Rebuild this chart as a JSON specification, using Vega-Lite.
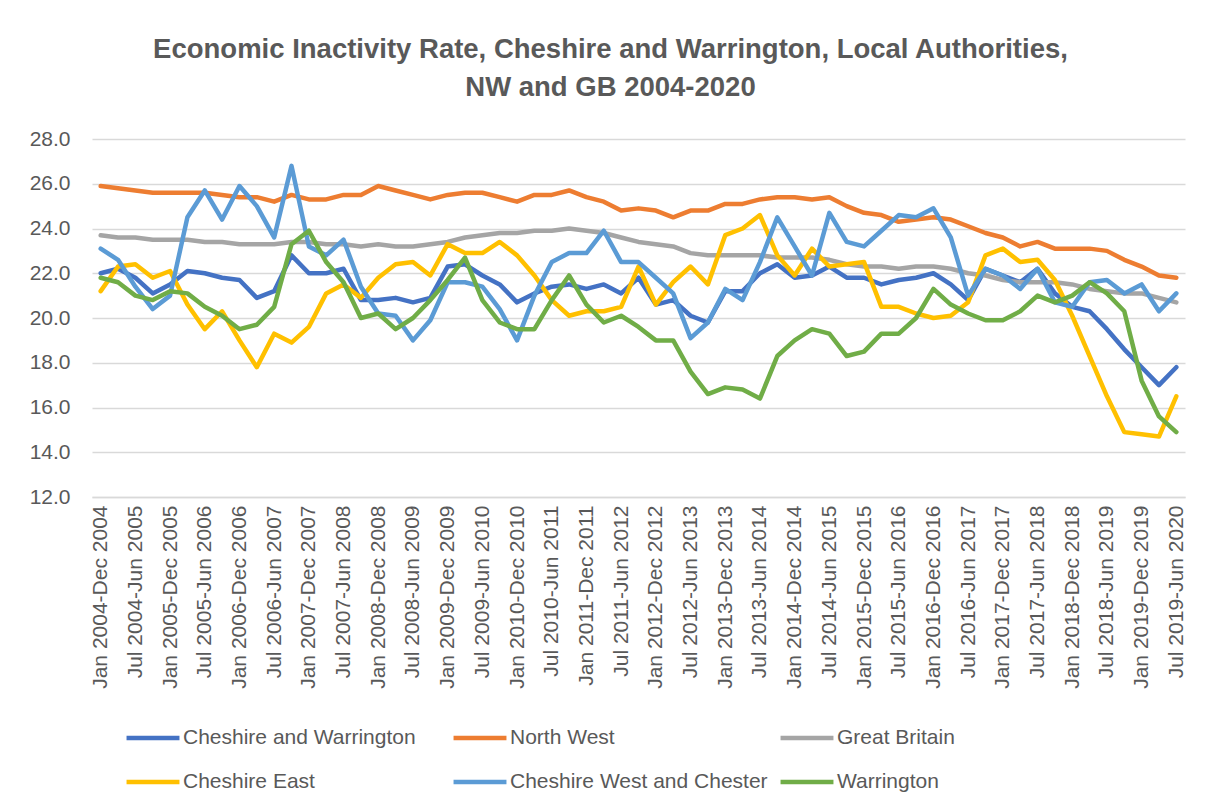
{
"$schema": "https://vega.github.io/schema/vega-lite/v6.json",
"autosize": {"type": "none"},
"width": 1093,
"height": 358,
"padding": {"left": 92, "top": 139, "right": 23, "bottom": 311},
"background": "#FFFFFF",
"config": {"font": "Liberation Sans", "view": {"stroke": null}},
"title": {"text": ["Economic Inactivity Rate, Cheshire and Warrington, Local Authorities,", "NW and GB 2004-2020"], "fontSize": 27.5, "fontWeight": "bold", "color": "#595959", "anchor": "middle", "frame": "group", "dx": -28, "offset": 27, "lineHeight": 38},
"data": {"values": [
{"period":"Jan 2004-Dec 2004","series":"Cheshire and Warrington","value":22.0},{"period":"Jan 2004-Dec 2004","series":"North West","value":25.9},{"period":"Jan 2004-Dec 2004","series":"Great Britain","value":23.7},{"period":"Jan 2004-Dec 2004","series":"Cheshire East","value":21.2},{"period":"Jan 2004-Dec 2004","series":"Cheshire West and Chester","value":23.1},{"period":"Jan 2004-Dec 2004","series":"Warrington","value":21.8},
{"period":"Apr 2004-Mar 2005","series":"Cheshire and Warrington","value":22.2},{"period":"Apr 2004-Mar 2005","series":"North West","value":25.8},{"period":"Apr 2004-Mar 2005","series":"Great Britain","value":23.6},{"period":"Apr 2004-Mar 2005","series":"Cheshire East","value":22.3},{"period":"Apr 2004-Mar 2005","series":"Cheshire West and Chester","value":22.6},{"period":"Apr 2004-Mar 2005","series":"Warrington","value":21.6},
{"period":"Jul 2004-Jun 2005","series":"Cheshire and Warrington","value":21.8},{"period":"Jul 2004-Jun 2005","series":"North West","value":25.7},{"period":"Jul 2004-Jun 2005","series":"Great Britain","value":23.6},{"period":"Jul 2004-Jun 2005","series":"Cheshire East","value":22.4},{"period":"Jul 2004-Jun 2005","series":"Cheshire West and Chester","value":21.4},{"period":"Jul 2004-Jun 2005","series":"Warrington","value":21.0},
{"period":"Oct 2004-Sep 2005","series":"Cheshire and Warrington","value":21.1},{"period":"Oct 2004-Sep 2005","series":"North West","value":25.6},{"period":"Oct 2004-Sep 2005","series":"Great Britain","value":23.5},{"period":"Oct 2004-Sep 2005","series":"Cheshire East","value":21.8},{"period":"Oct 2004-Sep 2005","series":"Cheshire West and Chester","value":20.4},{"period":"Oct 2004-Sep 2005","series":"Warrington","value":20.8},
{"period":"Jan 2005-Dec 2005","series":"Cheshire and Warrington","value":21.5},{"period":"Jan 2005-Dec 2005","series":"North West","value":25.6},{"period":"Jan 2005-Dec 2005","series":"Great Britain","value":23.5},{"period":"Jan 2005-Dec 2005","series":"Cheshire East","value":22.1},{"period":"Jan 2005-Dec 2005","series":"Cheshire West and Chester","value":21.0},{"period":"Jan 2005-Dec 2005","series":"Warrington","value":21.2},
{"period":"Apr 2005-Mar 2006","series":"Cheshire and Warrington","value":22.1},{"period":"Apr 2005-Mar 2006","series":"North West","value":25.6},{"period":"Apr 2005-Mar 2006","series":"Great Britain","value":23.5},{"period":"Apr 2005-Mar 2006","series":"Cheshire East","value":20.6},{"period":"Apr 2005-Mar 2006","series":"Cheshire West and Chester","value":24.5},{"period":"Apr 2005-Mar 2006","series":"Warrington","value":21.1},
{"period":"Jul 2005-Jun 2006","series":"Cheshire and Warrington","value":22.0},{"period":"Jul 2005-Jun 2006","series":"North West","value":25.6},{"period":"Jul 2005-Jun 2006","series":"Great Britain","value":23.4},{"period":"Jul 2005-Jun 2006","series":"Cheshire East","value":19.5},{"period":"Jul 2005-Jun 2006","series":"Cheshire West and Chester","value":25.7},{"period":"Jul 2005-Jun 2006","series":"Warrington","value":20.5},
{"period":"Oct 2005-Sep 2006","series":"Cheshire and Warrington","value":21.8},{"period":"Oct 2005-Sep 2006","series":"North West","value":25.5},{"period":"Oct 2005-Sep 2006","series":"Great Britain","value":23.4},{"period":"Oct 2005-Sep 2006","series":"Cheshire East","value":20.3},{"period":"Oct 2005-Sep 2006","series":"Cheshire West and Chester","value":24.4},{"period":"Oct 2005-Sep 2006","series":"Warrington","value":20.1},
{"period":"Jan 2006-Dec 2006","series":"Cheshire and Warrington","value":21.7},{"period":"Jan 2006-Dec 2006","series":"North West","value":25.4},{"period":"Jan 2006-Dec 2006","series":"Great Britain","value":23.3},{"period":"Jan 2006-Dec 2006","series":"Cheshire East","value":19.0},{"period":"Jan 2006-Dec 2006","series":"Cheshire West and Chester","value":25.9},{"period":"Jan 2006-Dec 2006","series":"Warrington","value":19.5},
{"period":"Apr 2006-Mar 2007","series":"Cheshire and Warrington","value":20.9},{"period":"Apr 2006-Mar 2007","series":"North West","value":25.4},{"period":"Apr 2006-Mar 2007","series":"Great Britain","value":23.3},{"period":"Apr 2006-Mar 2007","series":"Cheshire East","value":17.8},{"period":"Apr 2006-Mar 2007","series":"Cheshire West and Chester","value":25.0},{"period":"Apr 2006-Mar 2007","series":"Warrington","value":19.7},
{"period":"Jul 2006-Jun 2007","series":"Cheshire and Warrington","value":21.2},{"period":"Jul 2006-Jun 2007","series":"North West","value":25.2},{"period":"Jul 2006-Jun 2007","series":"Great Britain","value":23.3},{"period":"Jul 2006-Jun 2007","series":"Cheshire East","value":19.3},{"period":"Jul 2006-Jun 2007","series":"Cheshire West and Chester","value":23.6},{"period":"Jul 2006-Jun 2007","series":"Warrington","value":20.5},
{"period":"Oct 2006-Sep 2007","series":"Cheshire and Warrington","value":22.8},{"period":"Oct 2006-Sep 2007","series":"North West","value":25.5},{"period":"Oct 2006-Sep 2007","series":"Great Britain","value":23.4},{"period":"Oct 2006-Sep 2007","series":"Cheshire East","value":18.9},{"period":"Oct 2006-Sep 2007","series":"Cheshire West and Chester","value":26.8},{"period":"Oct 2006-Sep 2007","series":"Warrington","value":23.3},
{"period":"Jan 2007-Dec 2007","series":"Cheshire and Warrington","value":22.0},{"period":"Jan 2007-Dec 2007","series":"North West","value":25.3},{"period":"Jan 2007-Dec 2007","series":"Great Britain","value":23.4},{"period":"Jan 2007-Dec 2007","series":"Cheshire East","value":19.6},{"period":"Jan 2007-Dec 2007","series":"Cheshire West and Chester","value":23.2},{"period":"Jan 2007-Dec 2007","series":"Warrington","value":23.9},
{"period":"Apr 2007-Mar 2008","series":"Cheshire and Warrington","value":22.0},{"period":"Apr 2007-Mar 2008","series":"North West","value":25.3},{"period":"Apr 2007-Mar 2008","series":"Great Britain","value":23.3},{"period":"Apr 2007-Mar 2008","series":"Cheshire East","value":21.1},{"period":"Apr 2007-Mar 2008","series":"Cheshire West and Chester","value":22.8},{"period":"Apr 2007-Mar 2008","series":"Warrington","value":22.5},
{"period":"Jul 2007-Jun 2008","series":"Cheshire and Warrington","value":22.2},{"period":"Jul 2007-Jun 2008","series":"North West","value":25.5},{"period":"Jul 2007-Jun 2008","series":"Great Britain","value":23.3},{"period":"Jul 2007-Jun 2008","series":"Cheshire East","value":21.5},{"period":"Jul 2007-Jun 2008","series":"Cheshire West and Chester","value":23.5},{"period":"Jul 2007-Jun 2008","series":"Warrington","value":21.6},
{"period":"Oct 2007-Sep 2008","series":"Cheshire and Warrington","value":20.8},{"period":"Oct 2007-Sep 2008","series":"North West","value":25.5},{"period":"Oct 2007-Sep 2008","series":"Great Britain","value":23.2},{"period":"Oct 2007-Sep 2008","series":"Cheshire East","value":20.9},{"period":"Oct 2007-Sep 2008","series":"Cheshire West and Chester","value":21.4},{"period":"Oct 2007-Sep 2008","series":"Warrington","value":20.0},
{"period":"Jan 2008-Dec 2008","series":"Cheshire and Warrington","value":20.8},{"period":"Jan 2008-Dec 2008","series":"North West","value":25.9},{"period":"Jan 2008-Dec 2008","series":"Great Britain","value":23.3},{"period":"Jan 2008-Dec 2008","series":"Cheshire East","value":21.8},{"period":"Jan 2008-Dec 2008","series":"Cheshire West and Chester","value":20.2},{"period":"Jan 2008-Dec 2008","series":"Warrington","value":20.2},
{"period":"Apr 2008-Mar 2009","series":"Cheshire and Warrington","value":20.9},{"period":"Apr 2008-Mar 2009","series":"North West","value":25.7},{"period":"Apr 2008-Mar 2009","series":"Great Britain","value":23.2},{"period":"Apr 2008-Mar 2009","series":"Cheshire East","value":22.4},{"period":"Apr 2008-Mar 2009","series":"Cheshire West and Chester","value":20.1},{"period":"Apr 2008-Mar 2009","series":"Warrington","value":19.5},
{"period":"Jul 2008-Jun 2009","series":"Cheshire and Warrington","value":20.7},{"period":"Jul 2008-Jun 2009","series":"North West","value":25.5},{"period":"Jul 2008-Jun 2009","series":"Great Britain","value":23.2},{"period":"Jul 2008-Jun 2009","series":"Cheshire East","value":22.5},{"period":"Jul 2008-Jun 2009","series":"Cheshire West and Chester","value":19.0},{"period":"Jul 2008-Jun 2009","series":"Warrington","value":20.0},
{"period":"Oct 2008-Sep 2009","series":"Cheshire and Warrington","value":20.9},{"period":"Oct 2008-Sep 2009","series":"North West","value":25.3},{"period":"Oct 2008-Sep 2009","series":"Great Britain","value":23.3},{"period":"Oct 2008-Sep 2009","series":"Cheshire East","value":21.9},{"period":"Oct 2008-Sep 2009","series":"Cheshire West and Chester","value":19.9},{"period":"Oct 2008-Sep 2009","series":"Warrington","value":20.8},
{"period":"Jan 2009-Dec 2009","series":"Cheshire and Warrington","value":22.3},{"period":"Jan 2009-Dec 2009","series":"North West","value":25.5},{"period":"Jan 2009-Dec 2009","series":"Great Britain","value":23.4},{"period":"Jan 2009-Dec 2009","series":"Cheshire East","value":23.3},{"period":"Jan 2009-Dec 2009","series":"Cheshire West and Chester","value":21.6},{"period":"Jan 2009-Dec 2009","series":"Warrington","value":21.7},
{"period":"Apr 2009-Mar 2010","series":"Cheshire and Warrington","value":22.4},{"period":"Apr 2009-Mar 2010","series":"North West","value":25.6},{"period":"Apr 2009-Mar 2010","series":"Great Britain","value":23.6},{"period":"Apr 2009-Mar 2010","series":"Cheshire East","value":22.9},{"period":"Apr 2009-Mar 2010","series":"Cheshire West and Chester","value":21.6},{"period":"Apr 2009-Mar 2010","series":"Warrington","value":22.7},
{"period":"Jul 2009-Jun 2010","series":"Cheshire and Warrington","value":21.9},{"period":"Jul 2009-Jun 2010","series":"North West","value":25.6},{"period":"Jul 2009-Jun 2010","series":"Great Britain","value":23.7},{"period":"Jul 2009-Jun 2010","series":"Cheshire East","value":22.9},{"period":"Jul 2009-Jun 2010","series":"Cheshire West and Chester","value":21.4},{"period":"Jul 2009-Jun 2010","series":"Warrington","value":20.8},
{"period":"Oct 2009-Sep 2010","series":"Cheshire and Warrington","value":21.5},{"period":"Oct 2009-Sep 2010","series":"North West","value":25.4},{"period":"Oct 2009-Sep 2010","series":"Great Britain","value":23.8},{"period":"Oct 2009-Sep 2010","series":"Cheshire East","value":23.4},{"period":"Oct 2009-Sep 2010","series":"Cheshire West and Chester","value":20.4},{"period":"Oct 2009-Sep 2010","series":"Warrington","value":19.8},
{"period":"Jan 2010-Dec 2010","series":"Cheshire and Warrington","value":20.7},{"period":"Jan 2010-Dec 2010","series":"North West","value":25.2},{"period":"Jan 2010-Dec 2010","series":"Great Britain","value":23.8},{"period":"Jan 2010-Dec 2010","series":"Cheshire East","value":22.8},{"period":"Jan 2010-Dec 2010","series":"Cheshire West and Chester","value":19.0},{"period":"Jan 2010-Dec 2010","series":"Warrington","value":19.5},
{"period":"Apr 2010-Mar 2011","series":"Cheshire and Warrington","value":21.1},{"period":"Apr 2010-Mar 2011","series":"North West","value":25.5},{"period":"Apr 2010-Mar 2011","series":"Great Britain","value":23.9},{"period":"Apr 2010-Mar 2011","series":"Cheshire East","value":21.9},{"period":"Apr 2010-Mar 2011","series":"Cheshire West and Chester","value":21.0},{"period":"Apr 2010-Mar 2011","series":"Warrington","value":19.5},
{"period":"Jul 2010-Jun 2011","series":"Cheshire and Warrington","value":21.4},{"period":"Jul 2010-Jun 2011","series":"North West","value":25.5},{"period":"Jul 2010-Jun 2011","series":"Great Britain","value":23.9},{"period":"Jul 2010-Jun 2011","series":"Cheshire East","value":20.8},{"period":"Jul 2010-Jun 2011","series":"Cheshire West and Chester","value":22.5},{"period":"Jul 2010-Jun 2011","series":"Warrington","value":20.8},
{"period":"Oct 2010-Sep 2011","series":"Cheshire and Warrington","value":21.5},{"period":"Oct 2010-Sep 2011","series":"North West","value":25.7},{"period":"Oct 2010-Sep 2011","series":"Great Britain","value":24.0},{"period":"Oct 2010-Sep 2011","series":"Cheshire East","value":20.1},{"period":"Oct 2010-Sep 2011","series":"Cheshire West and Chester","value":22.9},{"period":"Oct 2010-Sep 2011","series":"Warrington","value":21.9},
{"period":"Jan 2011-Dec 2011","series":"Cheshire and Warrington","value":21.3},{"period":"Jan 2011-Dec 2011","series":"North West","value":25.4},{"period":"Jan 2011-Dec 2011","series":"Great Britain","value":23.9},{"period":"Jan 2011-Dec 2011","series":"Cheshire East","value":20.3},{"period":"Jan 2011-Dec 2011","series":"Cheshire West and Chester","value":22.9},{"period":"Jan 2011-Dec 2011","series":"Warrington","value":20.6},
{"period":"Apr 2011-Mar 2012","series":"Cheshire and Warrington","value":21.5},{"period":"Apr 2011-Mar 2012","series":"North West","value":25.2},{"period":"Apr 2011-Mar 2012","series":"Great Britain","value":23.8},{"period":"Apr 2011-Mar 2012","series":"Cheshire East","value":20.3},{"period":"Apr 2011-Mar 2012","series":"Cheshire West and Chester","value":23.9},{"period":"Apr 2011-Mar 2012","series":"Warrington","value":19.8},
{"period":"Jul 2011-Jun 2012","series":"Cheshire and Warrington","value":21.1},{"period":"Jul 2011-Jun 2012","series":"North West","value":24.8},{"period":"Jul 2011-Jun 2012","series":"Great Britain","value":23.6},{"period":"Jul 2011-Jun 2012","series":"Cheshire East","value":20.5},{"period":"Jul 2011-Jun 2012","series":"Cheshire West and Chester","value":22.5},{"period":"Jul 2011-Jun 2012","series":"Warrington","value":20.1},
{"period":"Oct 2011-Sep 2012","series":"Cheshire and Warrington","value":21.8},{"period":"Oct 2011-Sep 2012","series":"North West","value":24.9},{"period":"Oct 2011-Sep 2012","series":"Great Britain","value":23.4},{"period":"Oct 2011-Sep 2012","series":"Cheshire East","value":22.3},{"period":"Oct 2011-Sep 2012","series":"Cheshire West and Chester","value":22.5},{"period":"Oct 2011-Sep 2012","series":"Warrington","value":19.6},
{"period":"Jan 2012-Dec 2012","series":"Cheshire and Warrington","value":20.6},{"period":"Jan 2012-Dec 2012","series":"North West","value":24.8},{"period":"Jan 2012-Dec 2012","series":"Great Britain","value":23.3},{"period":"Jan 2012-Dec 2012","series":"Cheshire East","value":20.6},{"period":"Jan 2012-Dec 2012","series":"Cheshire West and Chester","value":21.8},{"period":"Jan 2012-Dec 2012","series":"Warrington","value":19.0},
{"period":"Apr 2012-Mar 2013","series":"Cheshire and Warrington","value":20.8},{"period":"Apr 2012-Mar 2013","series":"North West","value":24.5},{"period":"Apr 2012-Mar 2013","series":"Great Britain","value":23.2},{"period":"Apr 2012-Mar 2013","series":"Cheshire East","value":21.6},{"period":"Apr 2012-Mar 2013","series":"Cheshire West and Chester","value":21.1},{"period":"Apr 2012-Mar 2013","series":"Warrington","value":19.0},
{"period":"Jul 2012-Jun 2013","series":"Cheshire and Warrington","value":20.1},{"period":"Jul 2012-Jun 2013","series":"North West","value":24.8},{"period":"Jul 2012-Jun 2013","series":"Great Britain","value":22.9},{"period":"Jul 2012-Jun 2013","series":"Cheshire East","value":22.3},{"period":"Jul 2012-Jun 2013","series":"Cheshire West and Chester","value":19.1},{"period":"Jul 2012-Jun 2013","series":"Warrington","value":17.6},
{"period":"Oct 2012-Sep 2013","series":"Cheshire and Warrington","value":19.8},{"period":"Oct 2012-Sep 2013","series":"North West","value":24.8},{"period":"Oct 2012-Sep 2013","series":"Great Britain","value":22.8},{"period":"Oct 2012-Sep 2013","series":"Cheshire East","value":21.5},{"period":"Oct 2012-Sep 2013","series":"Cheshire West and Chester","value":19.8},{"period":"Oct 2012-Sep 2013","series":"Warrington","value":16.6},
{"period":"Jan 2013-Dec 2013","series":"Cheshire and Warrington","value":21.2},{"period":"Jan 2013-Dec 2013","series":"North West","value":25.1},{"period":"Jan 2013-Dec 2013","series":"Great Britain","value":22.8},{"period":"Jan 2013-Dec 2013","series":"Cheshire East","value":23.7},{"period":"Jan 2013-Dec 2013","series":"Cheshire West and Chester","value":21.3},{"period":"Jan 2013-Dec 2013","series":"Warrington","value":16.9},
{"period":"Apr 2013-Mar 2014","series":"Cheshire and Warrington","value":21.2},{"period":"Apr 2013-Mar 2014","series":"North West","value":25.1},{"period":"Apr 2013-Mar 2014","series":"Great Britain","value":22.8},{"period":"Apr 2013-Mar 2014","series":"Cheshire East","value":24.0},{"period":"Apr 2013-Mar 2014","series":"Cheshire West and Chester","value":20.8},{"period":"Apr 2013-Mar 2014","series":"Warrington","value":16.8},
{"period":"Jul 2013-Jun 2014","series":"Cheshire and Warrington","value":22.0},{"period":"Jul 2013-Jun 2014","series":"North West","value":25.3},{"period":"Jul 2013-Jun 2014","series":"Great Britain","value":22.8},{"period":"Jul 2013-Jun 2014","series":"Cheshire East","value":24.6},{"period":"Jul 2013-Jun 2014","series":"Cheshire West and Chester","value":22.5},{"period":"Jul 2013-Jun 2014","series":"Warrington","value":16.4},
{"period":"Oct 2013-Sep 2014","series":"Cheshire and Warrington","value":22.4},{"period":"Oct 2013-Sep 2014","series":"North West","value":25.4},{"period":"Oct 2013-Sep 2014","series":"Great Britain","value":22.7},{"period":"Oct 2013-Sep 2014","series":"Cheshire East","value":22.8},{"period":"Oct 2013-Sep 2014","series":"Cheshire West and Chester","value":24.5},{"period":"Oct 2013-Sep 2014","series":"Warrington","value":18.3},
{"period":"Jan 2014-Dec 2014","series":"Cheshire and Warrington","value":21.8},{"period":"Jan 2014-Dec 2014","series":"North West","value":25.4},{"period":"Jan 2014-Dec 2014","series":"Great Britain","value":22.7},{"period":"Jan 2014-Dec 2014","series":"Cheshire East","value":21.9},{"period":"Jan 2014-Dec 2014","series":"Cheshire West and Chester","value":23.2},{"period":"Jan 2014-Dec 2014","series":"Warrington","value":19.0},
{"period":"Apr 2014-Mar 2015","series":"Cheshire and Warrington","value":21.9},{"period":"Apr 2014-Mar 2015","series":"North West","value":25.3},{"period":"Apr 2014-Mar 2015","series":"Great Britain","value":22.7},{"period":"Apr 2014-Mar 2015","series":"Cheshire East","value":23.1},{"period":"Apr 2014-Mar 2015","series":"Cheshire West and Chester","value":21.9},{"period":"Apr 2014-Mar 2015","series":"Warrington","value":19.5},
{"period":"Jul 2014-Jun 2015","series":"Cheshire and Warrington","value":22.3},{"period":"Jul 2014-Jun 2015","series":"North West","value":25.4},{"period":"Jul 2014-Jun 2015","series":"Great Britain","value":22.6},{"period":"Jul 2014-Jun 2015","series":"Cheshire East","value":22.3},{"period":"Jul 2014-Jun 2015","series":"Cheshire West and Chester","value":24.7},{"period":"Jul 2014-Jun 2015","series":"Warrington","value":19.3},
{"period":"Oct 2014-Sep 2015","series":"Cheshire and Warrington","value":21.8},{"period":"Oct 2014-Sep 2015","series":"North West","value":25.0},{"period":"Oct 2014-Sep 2015","series":"Great Britain","value":22.4},{"period":"Oct 2014-Sep 2015","series":"Cheshire East","value":22.4},{"period":"Oct 2014-Sep 2015","series":"Cheshire West and Chester","value":23.4},{"period":"Oct 2014-Sep 2015","series":"Warrington","value":18.3},
{"period":"Jan 2015-Dec 2015","series":"Cheshire and Warrington","value":21.8},{"period":"Jan 2015-Dec 2015","series":"North West","value":24.7},{"period":"Jan 2015-Dec 2015","series":"Great Britain","value":22.3},{"period":"Jan 2015-Dec 2015","series":"Cheshire East","value":22.5},{"period":"Jan 2015-Dec 2015","series":"Cheshire West and Chester","value":23.2},{"period":"Jan 2015-Dec 2015","series":"Warrington","value":18.5},
{"period":"Apr 2015-Mar 2016","series":"Cheshire and Warrington","value":21.5},{"period":"Apr 2015-Mar 2016","series":"North West","value":24.6},{"period":"Apr 2015-Mar 2016","series":"Great Britain","value":22.3},{"period":"Apr 2015-Mar 2016","series":"Cheshire East","value":20.5},{"period":"Apr 2015-Mar 2016","series":"Cheshire West and Chester","value":23.9},{"period":"Apr 2015-Mar 2016","series":"Warrington","value":19.3},
{"period":"Jul 2015-Jun 2016","series":"Cheshire and Warrington","value":21.7},{"period":"Jul 2015-Jun 2016","series":"North West","value":24.3},{"period":"Jul 2015-Jun 2016","series":"Great Britain","value":22.2},{"period":"Jul 2015-Jun 2016","series":"Cheshire East","value":20.5},{"period":"Jul 2015-Jun 2016","series":"Cheshire West and Chester","value":24.6},{"period":"Jul 2015-Jun 2016","series":"Warrington","value":19.3},
{"period":"Oct 2015-Sep 2016","series":"Cheshire and Warrington","value":21.8},{"period":"Oct 2015-Sep 2016","series":"North West","value":24.4},{"period":"Oct 2015-Sep 2016","series":"Great Britain","value":22.3},{"period":"Oct 2015-Sep 2016","series":"Cheshire East","value":20.2},{"period":"Oct 2015-Sep 2016","series":"Cheshire West and Chester","value":24.5},{"period":"Oct 2015-Sep 2016","series":"Warrington","value":20.0},
{"period":"Jan 2016-Dec 2016","series":"Cheshire and Warrington","value":22.0},{"period":"Jan 2016-Dec 2016","series":"North West","value":24.5},{"period":"Jan 2016-Dec 2016","series":"Great Britain","value":22.3},{"period":"Jan 2016-Dec 2016","series":"Cheshire East","value":20.0},{"period":"Jan 2016-Dec 2016","series":"Cheshire West and Chester","value":24.9},{"period":"Jan 2016-Dec 2016","series":"Warrington","value":21.3},
{"period":"Apr 2016-Mar 2017","series":"Cheshire and Warrington","value":21.5},{"period":"Apr 2016-Mar 2017","series":"North West","value":24.4},{"period":"Apr 2016-Mar 2017","series":"Great Britain","value":22.2},{"period":"Apr 2016-Mar 2017","series":"Cheshire East","value":20.1},{"period":"Apr 2016-Mar 2017","series":"Cheshire West and Chester","value":23.6},{"period":"Apr 2016-Mar 2017","series":"Warrington","value":20.6},
{"period":"Jul 2016-Jun 2017","series":"Cheshire and Warrington","value":20.8},{"period":"Jul 2016-Jun 2017","series":"North West","value":24.1},{"period":"Jul 2016-Jun 2017","series":"Great Britain","value":22.0},{"period":"Jul 2016-Jun 2017","series":"Cheshire East","value":20.7},{"period":"Jul 2016-Jun 2017","series":"Cheshire West and Chester","value":21.0},{"period":"Jul 2016-Jun 2017","series":"Warrington","value":20.2},
{"period":"Oct 2016-Sep 2017","series":"Cheshire and Warrington","value":22.2},{"period":"Oct 2016-Sep 2017","series":"North West","value":23.8},{"period":"Oct 2016-Sep 2017","series":"Great Britain","value":21.9},{"period":"Oct 2016-Sep 2017","series":"Cheshire East","value":22.8},{"period":"Oct 2016-Sep 2017","series":"Cheshire West and Chester","value":22.2},{"period":"Oct 2016-Sep 2017","series":"Warrington","value":19.9},
{"period":"Jan 2017-Dec 2017","series":"Cheshire and Warrington","value":21.9},{"period":"Jan 2017-Dec 2017","series":"North West","value":23.6},{"period":"Jan 2017-Dec 2017","series":"Great Britain","value":21.7},{"period":"Jan 2017-Dec 2017","series":"Cheshire East","value":23.1},{"period":"Jan 2017-Dec 2017","series":"Cheshire West and Chester","value":21.9},{"period":"Jan 2017-Dec 2017","series":"Warrington","value":19.9},
{"period":"Apr 2017-Mar 2018","series":"Cheshire and Warrington","value":21.6},{"period":"Apr 2017-Mar 2018","series":"North West","value":23.2},{"period":"Apr 2017-Mar 2018","series":"Great Britain","value":21.6},{"period":"Apr 2017-Mar 2018","series":"Cheshire East","value":22.5},{"period":"Apr 2017-Mar 2018","series":"Cheshire West and Chester","value":21.3},{"period":"Apr 2017-Mar 2018","series":"Warrington","value":20.3},
{"period":"Jul 2017-Jun 2018","series":"Cheshire and Warrington","value":22.2},{"period":"Jul 2017-Jun 2018","series":"North West","value":23.4},{"period":"Jul 2017-Jun 2018","series":"Great Britain","value":21.6},{"period":"Jul 2017-Jun 2018","series":"Cheshire East","value":22.6},{"period":"Jul 2017-Jun 2018","series":"Cheshire West and Chester","value":22.2},{"period":"Jul 2017-Jun 2018","series":"Warrington","value":21.0},
{"period":"Oct 2017-Sep 2018","series":"Cheshire and Warrington","value":21.1},{"period":"Oct 2017-Sep 2018","series":"North West","value":23.1},{"period":"Oct 2017-Sep 2018","series":"Great Britain","value":21.6},{"period":"Oct 2017-Sep 2018","series":"Cheshire East","value":21.7},{"period":"Oct 2017-Sep 2018","series":"Cheshire West and Chester","value":20.7},{"period":"Oct 2017-Sep 2018","series":"Warrington","value":20.7},
{"period":"Jan 2018-Dec 2018","series":"Cheshire and Warrington","value":20.5},{"period":"Jan 2018-Dec 2018","series":"North West","value":23.1},{"period":"Jan 2018-Dec 2018","series":"Great Britain","value":21.5},{"period":"Jan 2018-Dec 2018","series":"Cheshire East","value":20.1},{"period":"Jan 2018-Dec 2018","series":"Cheshire West and Chester","value":20.5},{"period":"Jan 2018-Dec 2018","series":"Warrington","value":21.0},
{"period":"Apr 2018-Mar 2019","series":"Cheshire and Warrington","value":20.3},{"period":"Apr 2018-Mar 2019","series":"North West","value":23.1},{"period":"Apr 2018-Mar 2019","series":"Great Britain","value":21.3},{"period":"Apr 2018-Mar 2019","series":"Cheshire East","value":18.3},{"period":"Apr 2018-Mar 2019","series":"Cheshire West and Chester","value":21.6},{"period":"Apr 2018-Mar 2019","series":"Warrington","value":21.6},
{"period":"Jul 2018-Jun 2019","series":"Cheshire and Warrington","value":19.5},{"period":"Jul 2018-Jun 2019","series":"North West","value":23.0},{"period":"Jul 2018-Jun 2019","series":"Great Britain","value":21.2},{"period":"Jul 2018-Jun 2019","series":"Cheshire East","value":16.5},{"period":"Jul 2018-Jun 2019","series":"Cheshire West and Chester","value":21.7},{"period":"Jul 2018-Jun 2019","series":"Warrington","value":21.1},
{"period":"Oct 2018-Sep 2019","series":"Cheshire and Warrington","value":18.6},{"period":"Oct 2018-Sep 2019","series":"North West","value":22.6},{"period":"Oct 2018-Sep 2019","series":"Great Britain","value":21.1},{"period":"Oct 2018-Sep 2019","series":"Cheshire East","value":14.9},{"period":"Oct 2018-Sep 2019","series":"Cheshire West and Chester","value":21.1},{"period":"Oct 2018-Sep 2019","series":"Warrington","value":20.3},
{"period":"Jan 2019-Dec 2019","series":"Cheshire and Warrington","value":17.8},{"period":"Jan 2019-Dec 2019","series":"North West","value":22.3},{"period":"Jan 2019-Dec 2019","series":"Great Britain","value":21.1},{"period":"Jan 2019-Dec 2019","series":"Cheshire East","value":14.8},{"period":"Jan 2019-Dec 2019","series":"Cheshire West and Chester","value":21.5},{"period":"Jan 2019-Dec 2019","series":"Warrington","value":17.2},
{"period":"Apr 2019-Mar 2020","series":"Cheshire and Warrington","value":17.0},{"period":"Apr 2019-Mar 2020","series":"North West","value":21.9},{"period":"Apr 2019-Mar 2020","series":"Great Britain","value":20.9},{"period":"Apr 2019-Mar 2020","series":"Cheshire East","value":14.7},{"period":"Apr 2019-Mar 2020","series":"Cheshire West and Chester","value":20.3},{"period":"Apr 2019-Mar 2020","series":"Warrington","value":15.6},
{"period":"Jul 2019-Jun 2020","series":"Cheshire and Warrington","value":17.8},{"period":"Jul 2019-Jun 2020","series":"North West","value":21.8},{"period":"Jul 2019-Jun 2020","series":"Great Britain","value":20.7},{"period":"Jul 2019-Jun 2020","series":"Cheshire East","value":16.5},{"period":"Jul 2019-Jun 2020","series":"Cheshire West and Chester","value":21.1},{"period":"Jul 2019-Jun 2020","series":"Warrington","value":14.9}
]},
"mark": {"type": "line", "strokeWidth": 4.5, "strokeCap": "round", "strokeJoin": "round"},
"encoding": {
"x": {"field": "period", "type": "ordinal", "sort": null, "scale": {"type": "point", "padding": 0.5},
 "axis": {"title": null, "labelAngle": -90, "labelFontSize": 21, "labelColor": "#595959", "labelPadding": 8, "labelLimit": 400, "ticks": false, "domainColor": "#D9D9D9", "domainWidth": 1.5, "grid": false, "labelOverlap": false,
 "values": ["Jan 2004-Dec 2004","Jul 2004-Jun 2005","Jan 2005-Dec 2005","Jul 2005-Jun 2006","Jan 2006-Dec 2006","Jul 2006-Jun 2007","Jan 2007-Dec 2007","Jul 2007-Jun 2008","Jan 2008-Dec 2008","Jul 2008-Jun 2009","Jan 2009-Dec 2009","Jul 2009-Jun 2010","Jan 2010-Dec 2010","Jul 2010-Jun 2011","Jan 2011-Dec 2011","Jul 2011-Jun 2012","Jan 2012-Dec 2012","Jul 2012-Jun 2013","Jan 2013-Dec 2013","Jul 2013-Jun 2014","Jan 2014-Dec 2014","Jul 2014-Jun 2015","Jan 2015-Dec 2015","Jul 2015-Jun 2016","Jan 2016-Dec 2016","Jul 2016-Jun 2017","Jan 2017-Dec 2017","Jul 2017-Jun 2018","Jan 2018-Dec 2018","Jul 2018-Jun 2019","Jan 2019-Dec 2019","Jul 2019-Jun 2020"]}},
"y": {"field": "value", "type": "quantitative", "scale": {"domain": [12, 28], "nice": false, "zero": false},
 "axis": {"title": null, "values": [12,14,16,18,20,22,24,26,28], "format": ".1f", "labelFontSize": 21, "labelColor": "#595959", "labelPadding": 22, "ticks": false, "domain": false, "gridColor": "#D9D9D9", "gridWidth": 1.5}},
"color": {"field": "series", "type": "nominal", "sort": null,
 "scale": {"domain": ["Cheshire and Warrington","North West","Great Britain","Cheshire East","Cheshire West and Chester","Warrington"], "range": ["#4472C4","#ED7D31","#A5A5A5","#FFC000","#5B9BD5","#70AD47"]},
 "legend": {"title": null, "orient": "none", "legendX": 32, "legendY": 570, "direction": "horizontal", "columns": 3, "gridAlign": "all", "symbolType": "stroke", "symbolSize": 2800, "symbolStrokeWidth": 4.5, "labelFontSize": 21, "labelColor": "#595959", "labelOffset": 1, "columnPadding": 3, "rowPadding": 5, "labelLimit": 400}}
}
}
